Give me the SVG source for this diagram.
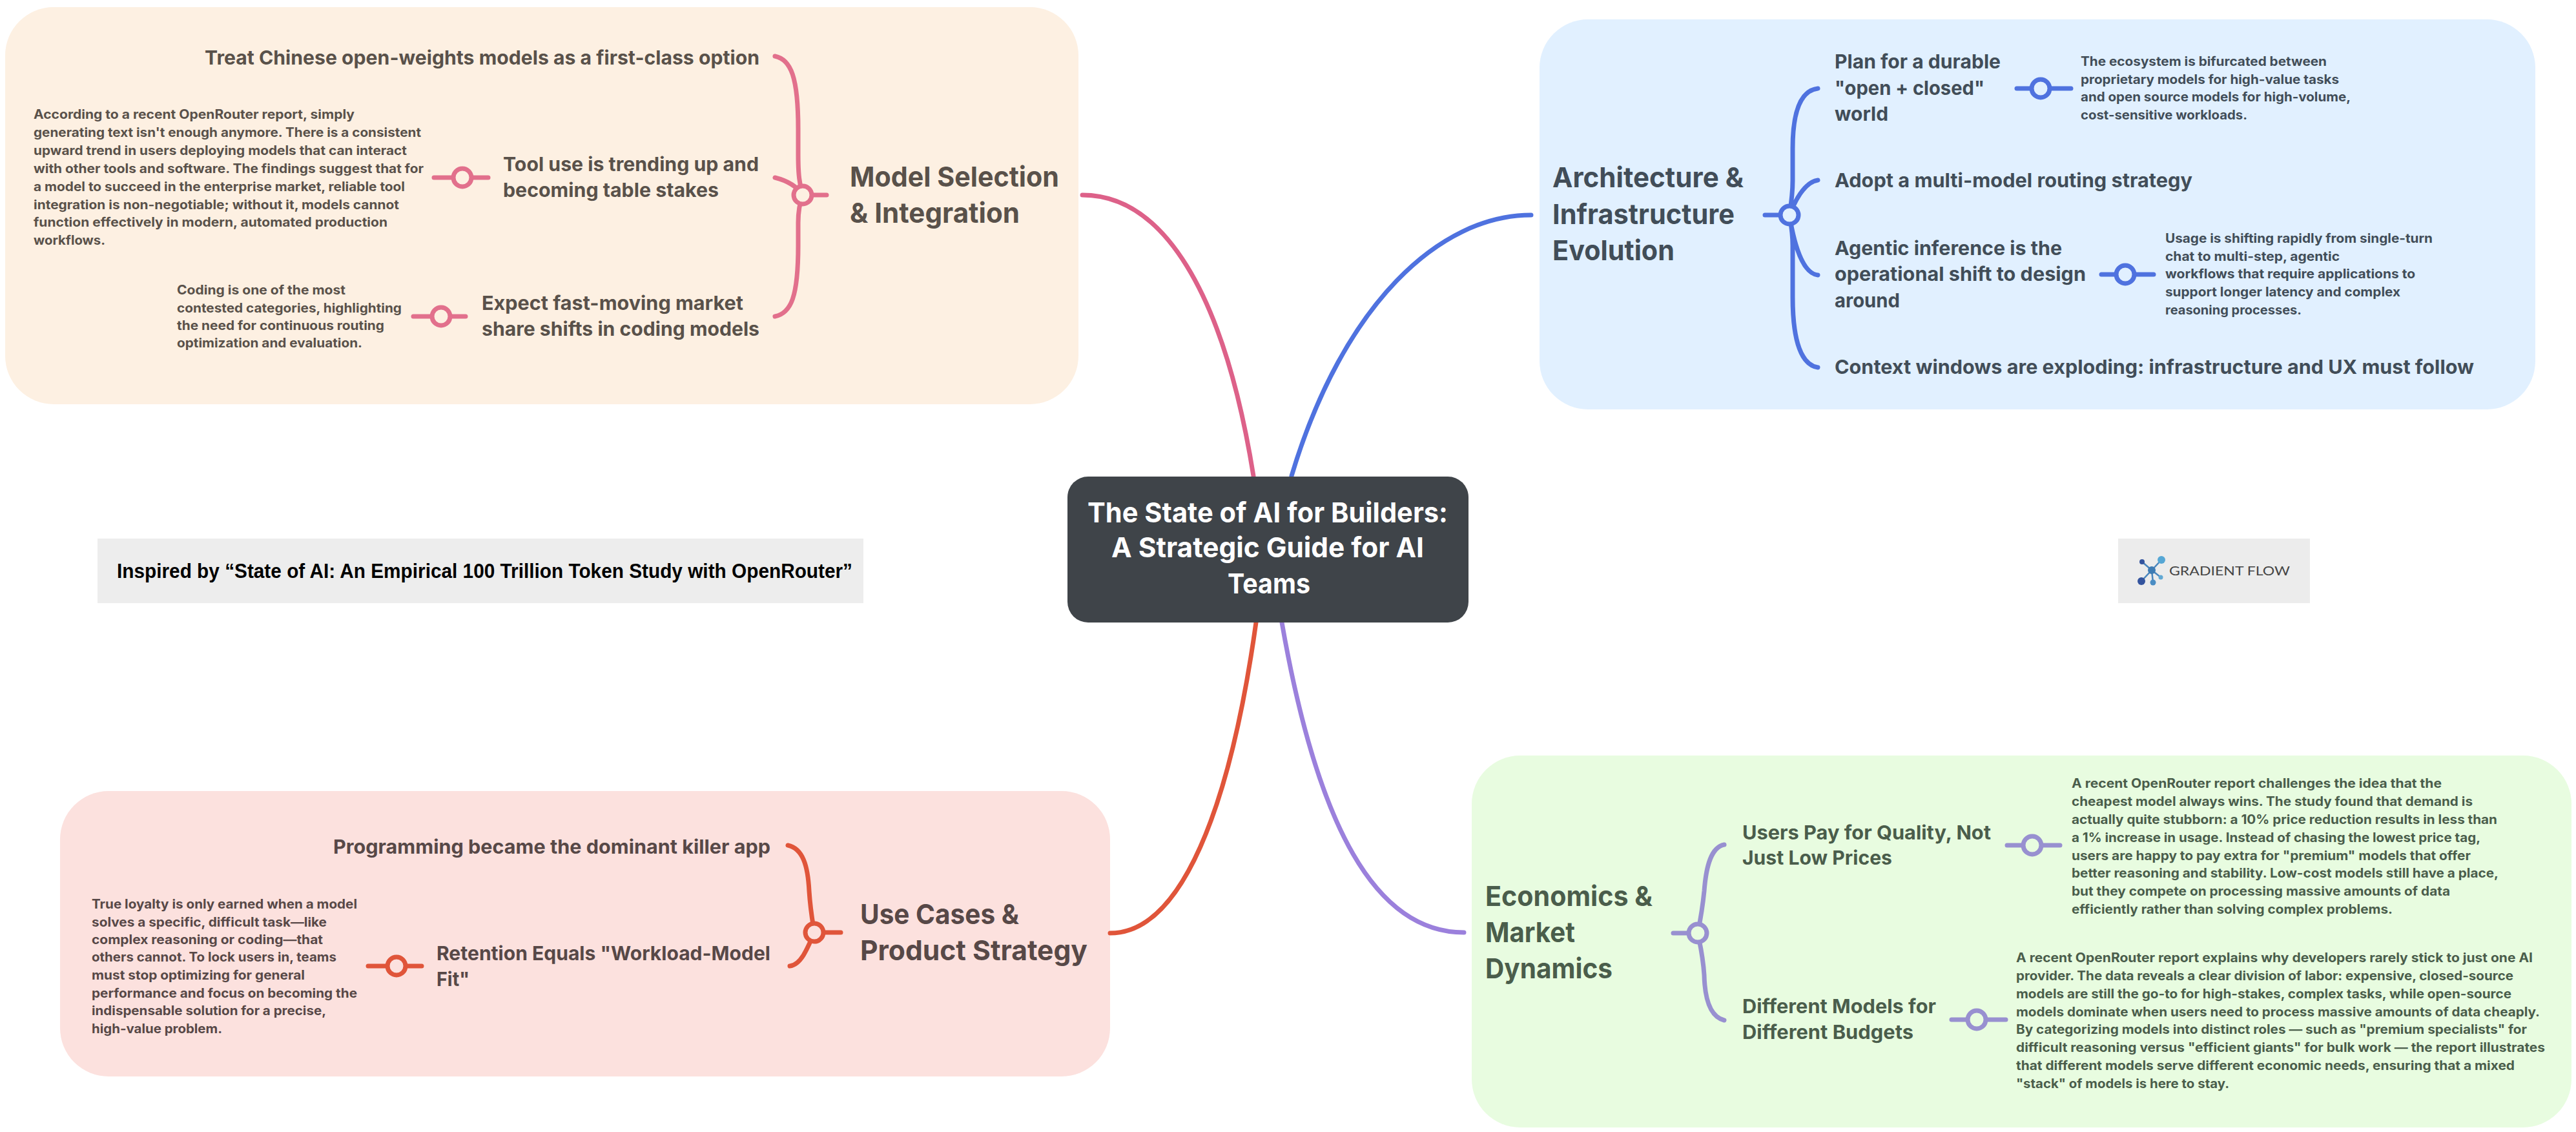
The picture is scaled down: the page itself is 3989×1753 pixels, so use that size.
<svg xmlns="http://www.w3.org/2000/svg" width="3989" height="1753" viewBox="0 0 3989 1753">
<style>
text{font-family:Inter,"Noto Sans",sans-serif;font-weight:700}
.t{font-size:30px}.n{font-size:20px}.h{font-size:43px}
.pe text{fill:#59514a}.bl text{fill:#414d58}.re text{fill:#574847}.gr text{fill:#4a5d4b}
.l{fill:none;stroke-width:7;stroke-linecap:round}
.pk{stroke:#e2708c}.bu{stroke:#4f72df}.rd{stroke:#e0553a}.pu{stroke:#9890d0}
</style>
<rect width="3989" height="1753" fill="#fff"/>
<g id="panels">
<rect x="8" y="11" width="1662" height="615" rx="75" fill="#fdf0e2"/>
<rect x="2384" y="30" width="1542" height="604" rx="75" fill="#e1f0ff"/>
<rect x="93" y="1225" width="1626" height="442" rx="75" fill="#fce1de"/>
<rect x="2279" y="1170" width="1703" height="576" rx="75" fill="#e8fce0"/>
</g>
<g id="connectors">
<path class="l" stroke="#dd6189" d="M1676 302C1800 302 1895 450 1941 737"/>
<path class="l bu" d="M2371 333C2230 333 2080 470 2000 737"/>
<path class="l rd" d="M1719 1445C1830 1445 1905 1250 1945 964"/>
<path class="l" stroke="#9b80dc" d="M2267 1444C2130 1444 2040 1280 1985 964"/>
<path class="l pk" d="M1200 87C1225 92 1236 120 1236 200L1236 240C1236 270 1238 285 1243 302M1200 490C1225 485 1236 460 1236 380L1236 345C1236 330 1238 315 1243 302M1200 275C1220 280 1235 290 1243 302M1243 302H1280M672 275H756M640 490H721"/>
<circle class="l pk" cx="1243" cy="302" r="14" style="fill:#fdf0e2"/>
<circle class="l pk" cx="716" cy="275" r="14" style="fill:#fdf0e2"/>
<circle class="l pk" cx="683" cy="490" r="14" style="fill:#fdf0e2"/>
<path class="l bu" d="M2815 137C2790 140 2776 170 2776 230L2776 280C2776 300 2773 320 2771 333M2815 279C2795 282 2780 310 2771 333M2815 426C2795 424 2780 390 2771 333M2815 569C2790 565 2776 530 2776 460L2776 380C2776 360 2773 345 2771 333M2733 333H2771M3123 137H3207M3254 425H3335"/>
<circle class="l bu" cx="2771" cy="333" r="14" style="fill:#e1f0ff"/>
<circle class="l bu" cx="3160" cy="137" r="14" style="fill:#e1f0ff"/>
<circle class="l bu" cx="3291" cy="425" r="14" style="fill:#e1f0ff"/>
<path class="l rd" d="M1220 1309C1243 1314 1251 1340 1253 1380C1255 1410 1258 1425 1261 1444M1223 1496C1240 1494 1250 1470 1261 1444M1261 1444H1302M570 1496H653"/>
<circle class="l rd" cx="1261" cy="1444" r="14" style="fill:#fce1de"/>
<circle class="l rd" cx="614" cy="1496" r="14" style="fill:#fce1de"/>
<path class="l pu" d="M2670 1308C2650 1312 2642 1340 2639 1380C2636 1410 2633 1425 2629 1445M2670 1580C2650 1575 2640 1550 2639 1510C2637 1480 2633 1465 2629 1445M2591 1445H2629M3108 1309H3190M3022 1579H3106"/>
<circle class="l pu" cx="2629" cy="1445" r="14" style="fill:#e8fce0"/>
<circle class="l pu" cx="3147" cy="1309" r="14" style="fill:#e8fce0"/>
<circle class="l pu" cx="3061" cy="1579" r="14" style="fill:#e8fce0"/>
</g>
<g id="central">
<rect x="1653" y="738" width="621" height="226" rx="32" fill="#3f4449"/>
<text class="h" fill="#fff" x="1684" y="809" textLength="558" lengthAdjust="spacingAndGlyphs">The State of AI for Builders:</text>
<text class="h" fill="#fff" x="1721" y="863" textLength="484" lengthAdjust="spacingAndGlyphs">A Strategic Guide for AI</text>
<text class="h" fill="#fff" x="1901" y="919" textLength="128" lengthAdjust="spacingAndGlyphs">Teams</text>
</g>
<g id="branch-model" class="pe">
<text class="h" x="1316" y="289" textLength="324" lengthAdjust="spacingAndGlyphs">Model Selection</text>
<text class="h" x="1316" y="345" textLength="263" lengthAdjust="spacingAndGlyphs">&amp; Integration</text>
</g>
<g id="topic-chinese" class="pe"><text class="t" x="317" y="100" textLength="859" lengthAdjust="spacingAndGlyphs">Treat Chinese open-weights models as a first-class option</text></g>
<g id="topic-tool" class="pe">
<text class="t" x="779" y="265" textLength="396" lengthAdjust="spacingAndGlyphs">Tool use is trending up and</text>
<text class="t" x="779" y="305" textLength="334" lengthAdjust="spacingAndGlyphs">becoming table stakes</text>
</g>
<g id="topic-expect" class="pe">
<text class="t" x="746" y="480" textLength="405" lengthAdjust="spacingAndGlyphs">Expect fast-moving market</text>
<text class="t" x="746" y="520" textLength="430" lengthAdjust="spacingAndGlyphs">share shifts in coding models</text>
</g>
<g id="note-tool" class="pe">
<text class="n" x="52" y="184" textLength="497" lengthAdjust="spacingAndGlyphs">According to a recent OpenRouter report, simply</text>
<text class="n" x="52" y="212" textLength="600" lengthAdjust="spacingAndGlyphs">generating text isn't enough anymore. There is a consistent</text>
<text class="n" x="52" y="240" textLength="578" lengthAdjust="spacingAndGlyphs">upward trend in users deploying models that can interact</text>
<text class="n" x="52" y="268" textLength="604" lengthAdjust="spacingAndGlyphs">with other tools and software. The findings suggest that for</text>
<text class="n" x="52" y="296" textLength="575" lengthAdjust="spacingAndGlyphs">a model to succeed in the enterprise market, reliable tool</text>
<text class="n" x="52" y="324" textLength="566" lengthAdjust="spacingAndGlyphs">integration is non-negotiable; without it, models cannot</text>
<text class="n" x="52" y="351" textLength="548" lengthAdjust="spacingAndGlyphs">function effectively in modern, automated production</text>
<text class="n" x="52" y="379" textLength="111" lengthAdjust="spacingAndGlyphs">workflows.</text>
</g>
<g id="note-coding" class="pe">
<text class="n" x="274" y="456" textLength="261" lengthAdjust="spacingAndGlyphs">Coding is one of the most</text>
<text class="n" x="274" y="484" textLength="348" lengthAdjust="spacingAndGlyphs">contested categories, highlighting</text>
<text class="n" x="274" y="511" textLength="321" lengthAdjust="spacingAndGlyphs">the need for continuous routing</text>
<text class="n" x="274" y="538" textLength="287" lengthAdjust="spacingAndGlyphs">optimization and evaluation.</text>
</g>
<g id="branch-arch" class="bl">
<text class="h" x="2404" y="290" textLength="296" lengthAdjust="spacingAndGlyphs">Architecture &amp;</text>
<text class="h" x="2404" y="347" textLength="282" lengthAdjust="spacingAndGlyphs">Infrastructure</text>
<text class="h" x="2404" y="403" textLength="189" lengthAdjust="spacingAndGlyphs">Evolution</text>
</g>
<g id="topic-plan" class="bl">
<text class="t" x="2841" y="106" textLength="257" lengthAdjust="spacingAndGlyphs">Plan for a durable</text>
<text class="t" x="2841" y="147" textLength="232" lengthAdjust="spacingAndGlyphs">"open + closed"</text>
<text class="t" x="2841" y="187" textLength="83" lengthAdjust="spacingAndGlyphs">world</text>
</g>
<g id="topic-adopt" class="bl"><text class="t" x="2841" y="290" textLength="554" lengthAdjust="spacingAndGlyphs">Adopt a multi-model routing strategy</text></g>
<g id="topic-agentic" class="bl">
<text class="t" x="2841" y="395" textLength="352" lengthAdjust="spacingAndGlyphs">Agentic inference is the</text>
<text class="t" x="2841" y="435" textLength="389" lengthAdjust="spacingAndGlyphs">operational shift to design</text>
<text class="t" x="2841" y="476" textLength="101" lengthAdjust="spacingAndGlyphs">around</text>
</g>
<g id="topic-context" class="bl"><text class="t" x="2841" y="579" textLength="990" lengthAdjust="spacingAndGlyphs">Context windows are exploding: infrastructure and UX must follow</text></g>
<g id="note-plan" class="bl">
<text class="n" x="3222" y="102" textLength="381" lengthAdjust="spacingAndGlyphs">The ecosystem is bifurcated between</text>
<text class="n" x="3222" y="130" textLength="400" lengthAdjust="spacingAndGlyphs">proprietary models for high-value tasks</text>
<text class="n" x="3222" y="157" textLength="418" lengthAdjust="spacingAndGlyphs">and open source models for high-volume,</text>
<text class="n" x="3222" y="185" textLength="258" lengthAdjust="spacingAndGlyphs">cost-sensitive workloads.</text>
</g>
<g id="note-agentic" class="bl">
<text class="n" x="3353" y="376" textLength="414" lengthAdjust="spacingAndGlyphs">Usage is shifting rapidly from single-turn</text>
<text class="n" x="3353" y="404" textLength="270" lengthAdjust="spacingAndGlyphs">chat to multi-step, agentic</text>
<text class="n" x="3353" y="431" textLength="387" lengthAdjust="spacingAndGlyphs">workflows that require applications to</text>
<text class="n" x="3353" y="459" textLength="364" lengthAdjust="spacingAndGlyphs">support longer latency and complex</text>
<text class="n" x="3353" y="487" textLength="211" lengthAdjust="spacingAndGlyphs">reasoning processes.</text>
</g>
<g id="branch-usecases" class="re">
<text class="h" x="1332" y="1431" textLength="246" lengthAdjust="spacingAndGlyphs">Use Cases &amp;</text>
<text class="h" x="1332" y="1487" textLength="352" lengthAdjust="spacingAndGlyphs">Product Strategy</text>
</g>
<g id="topic-programming" class="re"><text class="t" x="516" y="1322" textLength="677" lengthAdjust="spacingAndGlyphs">Programming became the dominant killer app</text></g>
<g id="topic-retention" class="re">
<text class="t" x="676" y="1487" textLength="517" lengthAdjust="spacingAndGlyphs">Retention Equals "Workload-Model</text>
<text class="t" x="676" y="1527" textLength="51" lengthAdjust="spacingAndGlyphs">Fit"</text>
</g>
<g id="note-retention" class="re">
<text class="n" x="142" y="1407" textLength="411" lengthAdjust="spacingAndGlyphs">True loyalty is only earned when a model</text>
<text class="n" x="142" y="1435" textLength="364" lengthAdjust="spacingAndGlyphs">solves a specific, difficult task—like</text>
<text class="n" x="142" y="1462" textLength="358" lengthAdjust="spacingAndGlyphs">complex reasoning or coding—that</text>
<text class="n" x="142" y="1489" textLength="379" lengthAdjust="spacingAndGlyphs">others cannot. To lock users in, teams</text>
<text class="n" x="142" y="1517" textLength="330" lengthAdjust="spacingAndGlyphs">must stop optimizing for general</text>
<text class="n" x="142" y="1545" textLength="411" lengthAdjust="spacingAndGlyphs">performance and focus on becoming the</text>
<text class="n" x="142" y="1572" textLength="363" lengthAdjust="spacingAndGlyphs">indispensable solution for a precise,</text>
<text class="n" x="142" y="1600" textLength="202" lengthAdjust="spacingAndGlyphs">high-value problem.</text>
</g>
<g id="branch-economics" class="gr">
<text class="h" x="2300" y="1403" textLength="259" lengthAdjust="spacingAndGlyphs">Economics &amp;</text>
<text class="h" x="2300" y="1459" textLength="139" lengthAdjust="spacingAndGlyphs">Market</text>
<text class="h" x="2300" y="1515" textLength="197" lengthAdjust="spacingAndGlyphs">Dynamics</text>
</g>
<g id="topic-users" class="gr">
<text class="t" x="2698" y="1300" textLength="385" lengthAdjust="spacingAndGlyphs">Users Pay for Quality, Not</text>
<text class="t" x="2698" y="1339" textLength="232" lengthAdjust="spacingAndGlyphs">Just Low Prices</text>
</g>
<g id="topic-different" class="gr">
<text class="t" x="2698" y="1569" textLength="300" lengthAdjust="spacingAndGlyphs">Different Models for</text>
<text class="t" x="2698" y="1609" textLength="265" lengthAdjust="spacingAndGlyphs">Different Budgets</text>
</g>
<g id="note-users" class="gr">
<text class="n" x="3208" y="1220" textLength="573" lengthAdjust="spacingAndGlyphs">A recent OpenRouter report challenges the idea that the</text>
<text class="n" x="3208" y="1248" textLength="621" lengthAdjust="spacingAndGlyphs">cheapest model always wins. The study found that demand is</text>
<text class="n" x="3208" y="1276" textLength="659" lengthAdjust="spacingAndGlyphs">actually quite stubborn: a 10% price reduction results in less than</text>
<text class="n" x="3208" y="1304" textLength="633" lengthAdjust="spacingAndGlyphs">a 1% increase in usage. Instead of chasing the lowest price tag,</text>
<text class="n" x="3208" y="1332" textLength="618" lengthAdjust="spacingAndGlyphs">users are happy to pay extra for "premium" models that offer</text>
<text class="n" x="3208" y="1359" textLength="661" lengthAdjust="spacingAndGlyphs">better reasoning and stability. Low-cost models still have a place,</text>
<text class="n" x="3208" y="1387" textLength="586" lengthAdjust="spacingAndGlyphs">but they compete on processing massive amounts of data</text>
<text class="n" x="3208" y="1415" textLength="497" lengthAdjust="spacingAndGlyphs">efficiently rather than solving complex problems.</text>
</g>
<g id="note-different" class="gr">
<text class="n" x="3122" y="1490" textLength="800" lengthAdjust="spacingAndGlyphs">A recent OpenRouter report explains why developers rarely stick to just one AI</text>
<text class="n" x="3122" y="1518" textLength="770" lengthAdjust="spacingAndGlyphs">provider. The data reveals a clear division of labor: expensive, closed-source</text>
<text class="n" x="3122" y="1546" textLength="767" lengthAdjust="spacingAndGlyphs">models are still the go-to for high-stakes, complex tasks, while open-source</text>
<text class="n" x="3122" y="1574" textLength="811" lengthAdjust="spacingAndGlyphs">models dominate when users need to process massive amounts of data cheaply.</text>
<text class="n" x="3122" y="1601" textLength="791" lengthAdjust="spacingAndGlyphs">By categorizing models into distinct roles — such as "premium specialists" for</text>
<text class="n" x="3122" y="1629" textLength="819" lengthAdjust="spacingAndGlyphs">difficult reasoning versus "efficient giants" for bulk work — the report illustrates</text>
<text class="n" x="3122" y="1657" textLength="772" lengthAdjust="spacingAndGlyphs">that different models serve different economic needs, ensuring that a mixed</text>
<text class="n" x="3122" y="1685" textLength="330" lengthAdjust="spacingAndGlyphs">"stack" of models is here to stay.</text>
</g>
<g id="inspired">
<rect x="151" y="834" width="1186" height="100" fill="#ededed"/>
<text x="181" y="895" textLength="1139" lengthAdjust="spacingAndGlyphs" style="font-family:'Liberation Sans',Arial,sans-serif;font-size:31px;font-weight:700" fill="#000">Inspired by “State of AI: An Empirical 100 Trillion Token Study with OpenRouter”</text>
</g>
<g id="gradient-flow">
<rect x="3280" y="834" width="297" height="100" fill="#ececec"/>
<path d="M3317 870L3332 883L3347 867M3316 900L3332 883L3346 894M3332 883L3334 902" fill="none" stroke="#4a86bd" stroke-width="2.5"/>
<circle cx="3332" cy="883" r="6" fill="#3e7cb4"/>
<circle cx="3347" cy="867" r="6" fill="#56a7d5"/>
<circle cx="3317" cy="870" r="4" fill="#34549e"/>
<circle cx="3316" cy="900" r="6" fill="#34549e"/>
<circle cx="3334" cy="902" r="4.5" fill="#4a8dc4"/>
<circle cx="3346" cy="894" r="3.5" fill="#62a9d4"/>
<text x="3359" y="891" textLength="187" lengthAdjust="spacingAndGlyphs" style="font-size:20px;font-weight:400;font-family:Lato,sans-serif" fill="#444">GRADIENT FLOW</text>
</g>
</svg>
